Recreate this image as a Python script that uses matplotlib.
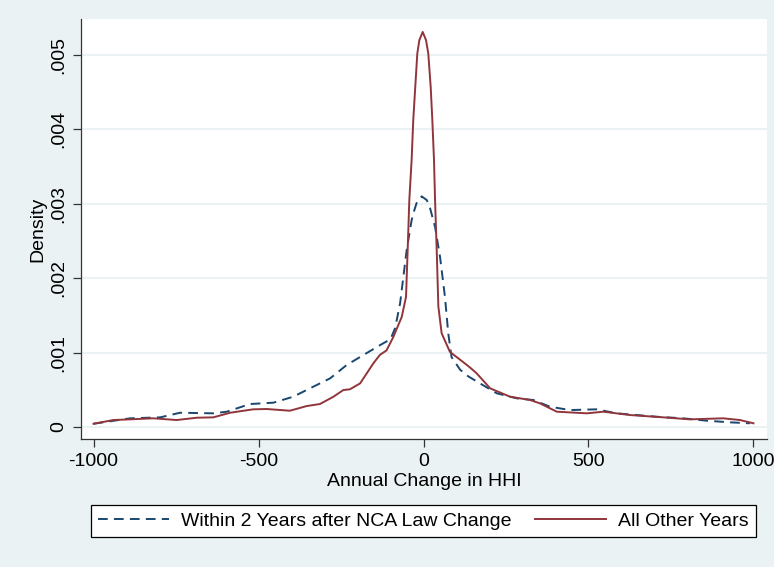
import matplotlib
matplotlib.use("Agg")
import matplotlib.pyplot as plt

# kernel density of annual HHI change
hhi_within = [-1000, -889, -798, -738, -637, -596, -526, -455, -395, -334, -283, -233,
              -182, -132, -100, -86, -71, -61, -51, -36, -31, -21, -5.5, 10, 20, 35,
              50, 65, 75, 85, 111, 136, 171, 222, 282, 333, 383, 444, 525, 585, 707,
              787, 858, 929, 989]
dens_within = [0.000044, 0.000117, 0.000130, 0.000192, 0.000184, 0.000206, 0.000309,
               0.000327, 0.000407, 0.000542, 0.000654, 0.000833, 0.000968, 0.00110,
               0.00118, 0.00133, 0.00166, 0.00202, 0.00238, 0.00278, 0.00287, 0.00301,
               0.00310, 0.00305, 0.00294, 0.00269, 0.00229, 0.00175, 0.00126, 0.00094,
               0.00077, 0.00068, 0.000587, 0.000453, 0.000386, 0.000363, 0.000273,
               0.000228, 0.000238, 0.000184, 0.000138, 0.000117, 0.000085, 0.000063,
               0.000050]

hhi_other = [-1000, -940, -889, -819, -748, -687, -637, -586, -516, -475, -405, -354,
             -314, -273, -243, -223, -192, -152, -132, -112, -91.5, -66, -53, -48, -43,
             -36, -31, -25, -18.8, -12.6, -2.4, 7.6, 14.5, 21.8, 26.7, 31.8, 35, 40,
             45, 55, 80, 121, 141, 161, 202, 262, 323, 353, 404, 495, 545, 626, 727,
             808, 908, 959, 1000]
dens_other = [0.000044, 0.000094, 0.000103, 0.000117, 0.000094, 0.000125, 0.000130,
              0.000192, 0.000238, 0.000242, 0.000219, 0.000282, 0.000309, 0.000407,
              0.000497, 0.000507, 0.000587, 0.000856, 0.00097, 0.00103, 0.00121,
              0.00148, 0.00175, 0.00238, 0.00305, 0.00359, 0.00413, 0.00457, 0.00502,
              0.00520, 0.00531, 0.00520, 0.00502, 0.00457, 0.00413, 0.00359, 0.00305,
              0.00238, 0.00162, 0.00126, 0.00101, 0.00087, 0.00080, 0.000722,
              0.000520, 0.000408, 0.000363, 0.000318, 0.000206, 0.000184, 0.000206,
              0.000161, 0.000130, 0.000103, 0.000117, 0.000094, 0.000050]

x_ticks = [-1000, -500, 0, 500, 1000]
y_ticks = [0, 0.001, 0.002, 0.003, 0.004, 0.005]
y_labels = ["0", ".001", ".002", ".003", ".004", ".005"]

bg = "#EAF2F3"
navy = "#1A476F"
maroon = "#90353B"

plt.rcParams["font.family"] = ["Liberation Sans", "DejaVu Sans"]
plt.rcParams["font.size"] = 14

fig = plt.figure(figsize=(7.74, 5.67), dpi=100, facecolor=bg)
W, H = 774, 567
ax = fig.add_axes([81 / W, 1 - 439 / H, (767 - 81) / W, (439 - 19) / H])
ax.set_facecolor("white")

ax.plot(hhi_within, dens_within, color=navy, lw=1.4, dashes=(5, 3.2),
        label="Within 2 Years after NCA Law Change")
ax.plot(hhi_other, dens_other, color=maroon, lw=1.4,
        label="All Other Years")

ax.set_xlim(-1038, 1041)
ax.set_ylim(-0.000161, 0.005484)
ax.set_xticks(x_ticks)
ax.set_xticklabels([str(t) for t in x_ticks])
ax.set_yticks(y_ticks)
ax.set_yticklabels(y_labels, rotation=90, va="center", ha="right")

ax.grid(axis="y", color=bg, lw=1.5)
ax.set_axisbelow(True)
ax.tick_params(axis="both", length=6, width=0.9, color="#333333")
ax.tick_params(axis="x", pad=4)
ax.tick_params(axis="y", pad=4)

for s in ["top", "right"]:
    ax.spines[s].set_visible(False)
for s in ["left", "bottom"]:
    ax.spines[s].set_color("#333333")
    ax.spines[s].set_linewidth(0.9)

ax.set_xlabel("Annual Change in HHI", labelpad=2)
ax.set_ylabel("Density", va="center")
ax.yaxis.set_label_coords((38 - 81) / 686, 0.5)

leg = ax.legend(loc="center", bbox_to_anchor=(423.5 / W, 1 - 521 / H),
                bbox_transform=fig.transFigure, ncol=2, fancybox=False,
                edgecolor="black", framealpha=1, handlelength=3.66,
                handletextpad=0.62, columnspacing=1.2, borderpad=0.35)
leg.get_frame().set_linewidth(0.9)

fig.savefig("out.png", dpi=100, facecolor=bg)
